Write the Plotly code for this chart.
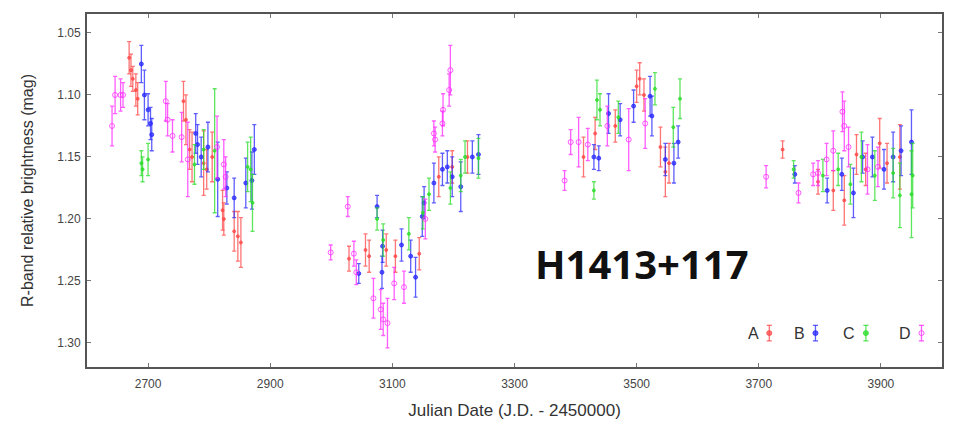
import plotly.graph_objects as go

# ---- data ----
a_x = [2669, 2672, 2675, 2680, 2683, 2758, 2762, 2768, 2772, 2791, 2796, 2805, 2822, 2824, 2841, 2847, 2852,
       3029, 3056, 3062, 3090, 3105, 3144, 3176, 3198, 3223,
       3413, 3432, 3465, 3500, 3505, 3512, 3539, 3547, 3553,
       3739, 3797, 3822, 3840, 3860, 3875, 3898, 3910, 3931]
a_y = [1.070, 1.080, 1.087, 1.096, 1.103, 1.105, 1.120, 1.144, 1.150, 1.155, 1.160, 1.150, 1.193, 1.200, 1.210, 1.214, 1.219,
       1.232, 1.225, 1.230, 1.225, 1.230, 1.228, 1.166, 1.158, 1.150,
       1.150, 1.131, 1.125, 1.093, 1.087, 1.100, 1.142, 1.162, 1.155,
       1.144, 1.170, 1.177, 1.185, 1.148, 1.160, 1.139, 1.155, 1.150]
a_e = [0.013, 0.013, 0.010, 0.013, 0.013, 0.016, 0.020, 0.016, 0.020, 0.026, 0.016, 0.020, 0.016, 0.013, 0.016, 0.020, 0.020,
       0.010, 0.013, 0.013, 0.013, 0.013, 0.013, 0.016, 0.013, 0.013,
       0.016, 0.013, 0.013, 0.013, 0.013, 0.013, 0.016, 0.020, 0.016,
       0.007, 0.010, 0.016, 0.020, 0.016, 0.013, 0.020, 0.016, 0.026]

b_x = [2689, 2694, 2700, 2704, 2706, 2778, 2781, 2787, 2798, 2814, 2829, 2841, 2860, 2870, 2874,
       3045, 3075, 3084, 3083, 3115, 3130, 3138, 3149, 3152, 3168, 3182, 3190, 3198, 3212, 3231, 3241,
       3430, 3438, 3454, 3473, 3495, 3522, 3525, 3547, 3561, 3568,
       3759, 3812, 3836, 3855, 3870, 3886, 3905, 3920, 3933, 3950]
b_y = [1.075, 1.100, 1.112, 1.123, 1.132, 1.131, 1.140, 1.150, 1.142, 1.168, 1.175, 1.183, 1.171, 1.169, 1.144,
       1.244, 1.190, 1.222, 1.243, 1.221, 1.230, 1.247, 1.198, 1.187, 1.171, 1.160, 1.158, 1.166, 1.174, 1.150, 1.148,
       1.150, 1.151, 1.115, 1.120, 1.109, 1.101, 1.117, 1.152, 1.155, 1.138,
       1.164, 1.177, 1.164, 1.179, 1.150, 1.150, 1.160, 1.150, 1.145, 1.138]
b_e = [0.015, 0.020, 0.013, 0.013, 0.013, 0.016, 0.016, 0.016, 0.020, 0.030, 0.013, 0.016, 0.020, 0.023, 0.020,
       0.008, 0.009, 0.013, 0.013, 0.013, 0.013, 0.016, 0.016, 0.013, 0.016, 0.013, 0.013, 0.016, 0.020, 0.013, 0.016,
       0.010, 0.010, 0.016, 0.013, 0.013, 0.016, 0.016, 0.013, 0.016, 0.013,
       0.007, 0.010, 0.013, 0.020, 0.013, 0.016, 0.016, 0.020, 0.020, 0.026]

c_x = [2689, 2691, 2700, 2776, 2791, 2809, 2863, 2868, 2871,
       3075, 3085, 3127, 3150, 3160, 3195, 3212, 3219, 3241,
       3430, 3435, 3440, 3470, 3530, 3560, 3571,
       3757, 3805, 3830, 3850, 3868, 3890, 3920, 3931, 3950, 3952]
c_y = [1.155, 1.160, 1.152, 1.156, 1.144, 1.145, 1.158, 1.160, 1.187,
       1.200, 1.217, 1.212, 1.195, 1.180, 1.175, 1.165, 1.150, 1.151,
       1.177, 1.104, 1.112, 1.118, 1.095, 1.126, 1.103,
       1.160, 1.165, 1.160, 1.172, 1.150, 1.165, 1.163, 1.181, 1.180, 1.165]
c_e = [0.010, 0.010, 0.013, 0.016, 0.016, 0.050, 0.020, 0.026, 0.023,
       0.009, 0.013, 0.013, 0.013, 0.013, 0.013, 0.013, 0.013, 0.016,
       0.007, 0.016, 0.013, 0.013, 0.013, 0.016, 0.016,
       0.007, 0.013, 0.013, 0.016, 0.020, 0.020, 0.020, 0.026, 0.035, 0.026]

d_x = [2641, 2646, 2655, 2659, 2729, 2732, 2740, 2755, 2765, 2813, 2824, 2827,
       2999, 3027, 3037, 3041, 3069, 3081, 3085, 3092, 3103, 3119, 3154, 3168, 3170, 3182, 3183, 3193, 3195,
       3382, 3392, 3405, 3420, 3452, 3487, 3514,
       3712, 3765, 3789, 3797, 3811, 3822, 3837, 3840, 3847, 3878, 3895]
d_y = [1.125, 1.100, 1.100, 1.100, 1.105, 1.120, 1.133, 1.134, 1.152, 1.142, 1.156, 1.166,
       1.227, 1.190, 1.228, 1.243, 1.264, 1.273, 1.281, 1.284, 1.252, 1.255, 1.200, 1.131, 1.136, 1.123, 1.112, 1.096, 1.080,
       1.169, 1.138, 1.138, 1.140, 1.125, 1.136, 1.123,
       1.166, 1.179, 1.164, 1.163, 1.152, 1.145, 1.1135, 1.125, 1.142, 1.160, 1.158]
d_e = [0.016, 0.015, 0.013, 0.010, 0.016, 0.013, 0.013, 0.020, 0.030, 0.025, 0.020, 0.016,
       0.006, 0.008, 0.010, 0.010, 0.016, 0.016, 0.013, 0.020, 0.013, 0.013, 0.016, 0.010, 0.010, 0.010, 0.013, 0.013, 0.020,
       0.008, 0.010, 0.020, 0.013, 0.016, 0.025, 0.020,
       0.009, 0.008, 0.009, 0.010, 0.013, 0.016, 0.016, 0.020, 0.016, 0.020, 0.016]

series_names = ["A", "B", "C", "D"]
series_colors = ["rgba(255,70,70,0.75)", "rgba(40,40,255,0.75)", "rgba(40,220,40,0.75)", "rgba(255,40,255,0.75)"]
series_symbols = ["circle", "circle", "circle", "circle-open"]
series_sizes = [3, 4, 3, 5]
x_ticks = [2700, 2900, 3100, 3300, 3500, 3700, 3900]
y_ticks = [1.05, 1.10, 1.15, 1.20, 1.25, 1.30]

fig = go.Figure()
for name, xs, ys, es, col, sym, sz in zip(series_names, [a_x, b_x, c_x, d_x], [a_y, b_y, c_y, d_y],
                                          [a_e, b_e, c_e, d_e], series_colors, series_symbols, series_sizes):
    fig.add_trace(go.Scatter(
        x=xs, y=ys, mode="markers", name=name, showlegend=False,
        marker=dict(color=col, size=sz, symbol=sym, line=dict(color=col, width=1)),
        error_y=dict(type="data", array=es, visible=True, color=col, thickness=1.3, width=2),
    ))

# manual legend (text followed by an error-bar glyph)
leg_text_x = [0.788, 0.842, 0.901, 0.966]
for name, tx, col in zip(series_names, leg_text_x, series_colors):
    fig.add_annotation(x=tx, y=0.096, xref="paper", yref="paper", text=name, showarrow=False,
                       xanchor="right", yanchor="middle",
                       font=dict(family="Liberation Sans, Arial", size=16, color="#333"))
    gx = tx + 0.010
    fig.add_shape(type="line", xref="paper", yref="paper", x0=gx, x1=gx, y0=0.074, y1=0.118,
                  line=dict(color=col, width=1.3))
    for gy in (0.074, 0.118):
        fig.add_shape(type="line", xref="paper", yref="paper", x0=gx - 0.003, x1=gx + 0.003, y0=gy, y1=gy,
                      line=dict(color=col, width=1.3))
    fig.add_shape(type="circle", xref="paper", yref="paper", x0=gx - 0.003, x1=gx + 0.003,
                  y0=0.089, y1=0.103, line=dict(color=col, width=1),
                  fillcolor=col if name != "D" else "rgba(0,0,0,0)")

fig.add_annotation(x=3508, y=1.236, text="<b>H1413+117</b>", showarrow=False,
                   font=dict(family="Open Sans, Lato, sans-serif", size=40, color="#111"))

axis_common = dict(showline=True, linecolor="#555", linewidth=2, mirror="ticks", ticks="inside",
                   ticklen=4, tickcolor="#777", showgrid=False, zeroline=False, automargin=False,
                   tickfont=dict(family="Liberation Sans, Arial", size=12, color="#444"))
fig.update_xaxes(range=[2600, 4000], tickvals=x_ticks, ticktext=[str(v) for v in x_ticks],
                 ticklabelstandoff=5,
                 title=dict(text="Julian Date (J.D. - 2450000)",
                            font=dict(family="Liberation Sans, Arial", size=17, color="#333"), standoff=14),
                 **axis_common)
fig.update_yaxes(range=[1.3194, 1.0347], tickvals=y_ticks, ticktext=[f"{v:.2f}" for v in y_ticks],
                 ticklabelstandoff=2,
                 title=dict(text="R-band relative brightness (mag)",
                            font=dict(family="Liberation Sans, Arial", size=16, color="#333"), standoff=20),
                 **axis_common)
fig.update_layout(width=947, height=414, margin=dict(l=79, r=13, t=6, b=55, autoexpand=False),
                  plot_bgcolor="white", paper_bgcolor="white")
fig.write_html("out.html")
